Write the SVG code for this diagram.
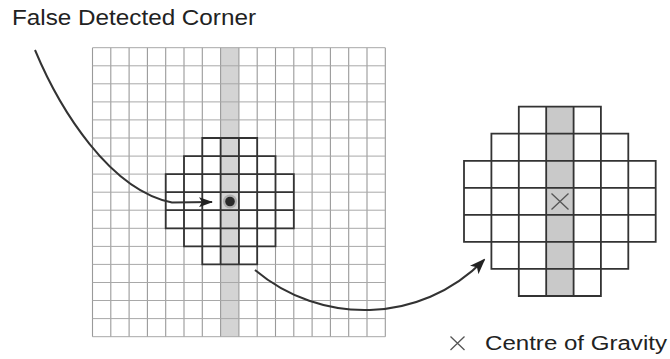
<svg xmlns="http://www.w3.org/2000/svg" width="670" height="359" viewBox="0 0 670 359">
<style>
.lbl{font-family:"Liberation Sans",Arial,sans-serif;fill:#222}
.light{stroke:#a8a8a8;stroke-width:1;fill:none}
.lightv{stroke:#9a9a9a;stroke-width:1.1;fill:none}
.dark{stroke:#333;stroke-width:1.8;fill:none;stroke-linecap:square}
.shade{fill:#d4d4d4}
.conn{stroke:#333;stroke-width:2;fill:none}
.xmark{stroke:#555;stroke-width:1.3;fill:none}
</style>
<defs>
<marker id="ah" viewBox="0 0 16 12" refX="14" refY="6" markerWidth="16" markerHeight="12" markerUnits="userSpaceOnUse" orient="auto">
<path d="M0,0 L16,6 L0,12 L4,6 Z" fill="#222"/>
</marker>
<marker id="ah2" viewBox="0 0 14 10" refX="13" refY="5" markerWidth="14" markerHeight="10" markerUnits="userSpaceOnUse" orient="auto">
<path d="M0,0 L14,5 L0,10 L3,5 Z" fill="#222"/>
</marker>
</defs>
<rect width="670" height="359" fill="#fff"/>
<g id="left-grid">
<rect class="shade" x="220.6" y="47.7" width="18.3" height="289"/>
<path class="lightv" d="M92.5,47.7V336.7M110.8,47.7V336.7M129.1,47.7V336.7M147.4,47.7V336.7M165.7,47.7V336.7M184,47.7V336.7M202.3,47.7V336.7M220.6,47.7V336.7M238.9,47.7V336.7M257.2,47.7V336.7M275.5,47.7V336.7M293.8,47.7V336.7M312.1,47.7V336.7M330.4,47.7V336.7M348.7,47.7V336.7M367,47.7V336.7M385.3,47.7V336.7"/>
<path class="light" d="M92.5,47.7H385.3M92.5,65.8H385.3M92.5,83.8H385.3M92.5,101.9H385.3M92.5,119.9H385.3M92.5,138H385.3M92.5,156.1H385.3M92.5,174.1H385.3M92.5,192.2H385.3M92.5,210.2H385.3M92.5,228.3H385.3M92.5,246.4H385.3M92.5,264.4H385.3M92.5,282.5H385.3M92.5,300.5H385.3M92.5,318.6H385.3M92.5,336.7H385.3"/>
<path class="dark" d="M202.3,138H257.2M184,156.1H275.5M165.7,174.1H293.8M165.7,192.2H293.8M165.7,210.2H293.8M165.7,228.3H293.8M184,246.4H275.5M202.3,264.4H257.2M165.7,174.1V228.3M184,156.1V246.4M202.3,138V264.4M220.6,138V264.4M238.9,138V264.4M257.2,138V264.4M275.5,156.1V246.4M293.8,174.1V228.3"/>
<circle cx="230" cy="201.5" r="7" fill="#888" opacity="0.5"/>
<circle cx="230" cy="201.5" r="4.8" fill="#2a2a2a"/>
</g>
<g id="right-grid">
<rect x="546.2" y="106.7" width="27.4" height="189.3" fill="#c9c9c9"/>
<path class="dark" d="M518.8,106.7H600.9M491.4,133.7H628.3M464,160.8H655.7M464,187.8H655.7M464,214.9H655.7M464,241.9H655.7M491.4,268.9H628.3M518.8,296H600.9M464,160.8V241.9M491.4,133.7V268.9M518.8,106.7V296M546.2,106.7V296M573.6,106.7V296M600.9,106.7V296M628.3,133.7V268.9M655.7,160.8V241.9"/>
<path class="xmark" d="M551.5,193.5L568.5,209.5M568.5,193.5L551.5,209.5"/>
</g>
<g id="connectors">
<path class="conn" d="M35,50 C60,110 110,190 172,202.5 L212,202" marker-end="url(#ah2)"/>
<path class="conn" d="M255,270 C320,325 420,325 484,260" marker-end="url(#ah)"/>
</g>
<g id="label-false-corner">
<text class="lbl" x="12" y="25" font-size="22" textLength="244" lengthAdjust="spacingAndGlyphs">False Detected Corner</text>
</g>
<g id="legend">
<path class="xmark" d="M450.5,336.5L464.5,350M464.5,336.5L450.5,350"/>
<text class="lbl" x="485" y="350" font-size="20" textLength="182" lengthAdjust="spacingAndGlyphs">Centre of Gravity</text>
</g>
</svg>
